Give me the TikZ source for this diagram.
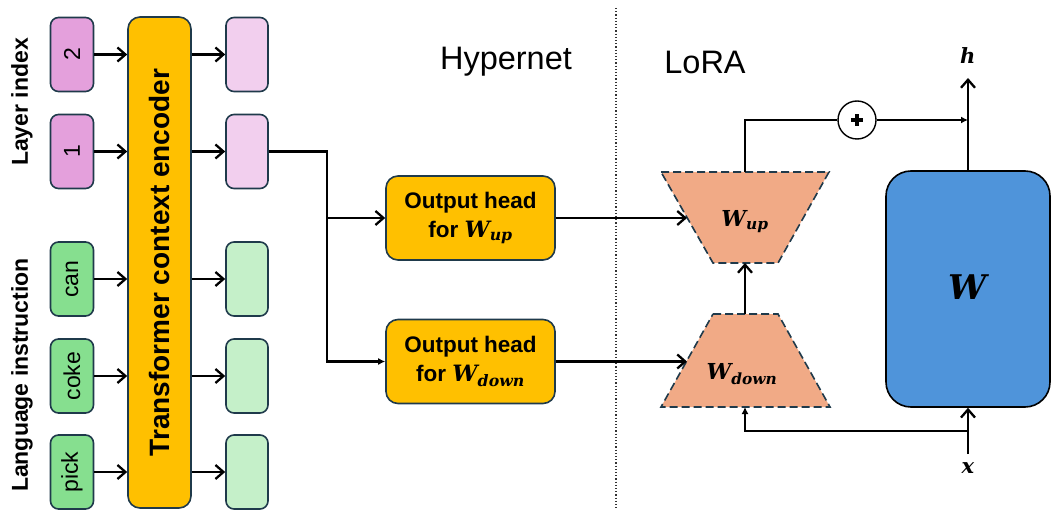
\documentclass[tikz,border=0pt]{standalone}
\usepackage{graphicx}
\usepackage{fontspec}
\setmainfont{Liberation Sans}
\newfontfamily\mfont{DejaVu Serif}
\newcommand{\mv}[2]{{\mfont\bfseries\itshape #1\textsubscript{#2}}}
\usetikzlibrary{arrows.meta}
\definecolor{pinkA}{HTML}{E4A0DC}
\definecolor{pinkB}{HTML}{F2CFEE}
\definecolor{greenA}{HTML}{86DF8F}
\definecolor{greenB}{HTML}{C5F0C9}
\definecolor{gold}{HTML}{FFC000}
\definecolor{salmon}{HTML}{F1AA86}
\definecolor{blueW}{HTML}{4F94DA}
\definecolor{edge}{HTML}{1F3A4B}
\begin{document}
\begin{tikzpicture}[x=1pt,y=-1pt,
 box/.style={draw=edge,line width=1.6pt,rounded corners=8pt,inner sep=0pt},
 inbox/.style={box,minimum width=43pt,minimum height=74pt,font=\fontsize{23}{26}\selectfont},
 outbox/.style={box,minimum width=42pt,minimum height=74pt},
 head/.style={box,fill=gold,rounded corners=12pt,minimum width=169pt,minimum height=84pt,align=center,font=\fontsize{22.5}{29}\selectfont\bfseries},
 arr/.style={line width=2.3pt,-{Straight Barb[length=8pt,width=14pt,line width=2.3pt]}},
 arrs/.style={line width=2.3pt,-{Latex[length=7pt,width=7pt]}},
 ln/.style={line width=2.3pt},
 trap/.style={fill=salmon,draw=edge,line width=1.6pt,dash pattern=on 8pt off 4pt},
 side/.style={rotate=90,font=\fontsize{23}{26}\selectfont\bfseries},
 title/.style={font=\fontsize{32.5}{36}\selectfont},
 mlab/.style={font=\fontsize{22}{26}\selectfont}]
\useasboundingbox (0,0) rectangle (1051,510);

% side labels
\node[side] (lli) at (22,102) {Layer index};
\node[side] (lla) at (22,375) {Language instruction};

% input tokens
\node[inbox,fill=pinkA] (in2) at (72,54.5) {\rotatebox{90}{2}};
\node[inbox,fill=pinkA] (in1) at (72,151.5) {\rotatebox{90}{1}};
\node[inbox,fill=greenA] (inc) at (72,279) {\rotatebox{90}{can}};
\node[inbox,fill=greenA] (ink) at (72,376) {\rotatebox{90}{coke}};
\node[inbox,fill=greenA] (inp) at (72,472) {\rotatebox{90}{pick}};

% encoder
\node[box,fill=gold,rounded corners=12pt,minimum width=63pt,minimum height=491pt,font=\fontsize{28}{30}\selectfont\bfseries] (enc) at (159.5,262.5) {\rotatebox{90}{Transformer context encoder}};

% output tokens
\node[outbox,fill=pinkB] (o2) at (247,54.5) {};
\node[outbox,fill=pinkB] (o1) at (247,151.5) {};
\node[outbox,fill=greenB] (oc) at (247,279) {};
\node[outbox,fill=greenB] (ok) at (247,376) {};
\node[outbox,fill=greenB] (op) at (247,472) {};

\foreach \i/\o in {in2/o2,in1/o1,inc/oc,ink/ok,inp/op}{
  \draw[arr] (\i.east) -- (\i.east -| enc.west);
  \draw[arr] (\o.west -| enc.east) -- (\o.west);
}

% titles and divider
\node[title] (hyp) at (506,62) {Hypernet};
\node[title] (lora) at (705,62) {LoRA};
\draw[dotted,line width=1.2pt,black!80] (616,8) -- (616,510);

% output heads
\node[head] (hup) at (470.5,218) {Output head\\for \mv{W}{up}};
\node[head] (hdn) at (470.5,361.5) {Output head\\for \mv{W}{down}};

\coordinate (bend) at (327,218);
\draw[ln] (o1.east) -| (bend);
\draw[arr] (bend) -- (hup.west);
\draw[arrs] (bend) |- (hdn.west);

% trapezoids
\path[trap] (661,172) -- (829,172) -- (778,263) -- (713,263) -- cycle;
\path[trap] (713,314) -- (778,314) -- (830,407) -- (661,407) -- cycle;
\node[mlab] (wup) at (745,222) {\mv{W}{up}};
\node[mlab] (wdn) at (742,374) {\mv{W}{down}};
\coordinate (wupT) at (745,172);
\coordinate (wupB) at (745,263);
\coordinate (wdnT) at (745,314);
\coordinate (wdnB) at (745,407);
\coordinate (wupL) at (687,218);
\coordinate (wdnL) at (687,361.5);

\draw[arr] (hup.east) -- (wupL);
\draw[arr] (hdn.east) -- (wdnL);
\draw[arr] (wdnT) -- (wupB);

% main weight
\node[draw=black,line width=1.6pt,fill=blueW,rounded corners=25pt,minimum width=164pt,minimum height=236pt,inner sep=0pt,font=\fontsize{34}{38}\selectfont] (W) at (968,289) {\mv{W}{}};

% plus
\node[draw=black,line width=1.4pt,fill=white,circle,minimum size=38pt,inner sep=0pt] (plus) at (857,120) {};
\draw[line width=4pt] ([xshift=-6pt]plus.center) -- ([xshift=6pt]plus.center);
\draw[line width=4pt] ([yshift=-6pt]plus.center) -- ([yshift=6pt]plus.center);

\coordinate (join) at (968,120);
\coordinate (htip) at (968,78);
\coordinate (xstart) at (968,454);
\coordinate (branch) at (968,431);

\draw[ln] (wupT) |- (plus.west);
\draw[arrs] (plus.east) -- (join);
\draw[arr] (W.north) -- (htip);
\draw[arr] (xstart) -- (W.south);
\draw[arrs] (branch) -| (wdnB);

\node[mlab,font=\fontsize{21}{24}\selectfont] (hl) at (968,57) {\mv{h}{}};
\node[mlab,font=\fontsize{21}{24}\selectfont] (xl) at (968,470) {\mv{x}{}};
\end{tikzpicture}
\end{document}
